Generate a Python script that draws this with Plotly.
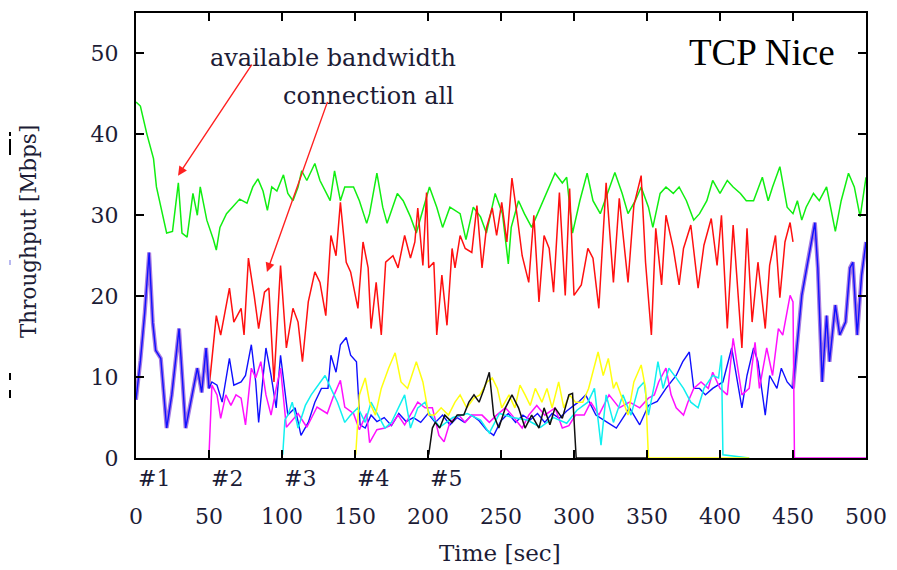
import plotly.graph_objects as go

# ---------------- data ----------------
green_t = [0, 3, 7.5, 10, 12, 14, 16.5, 18.5, 21, 25, 29, 31.5, 35, 39, 42, 44, 48.5, 53, 55, 57.5,
           62, 66, 71, 76, 80, 83.5, 87, 90, 93, 96.5, 101, 104, 107.5, 111, 113.5, 117, 120, 122.5, 126, 129.5,
           133, 136, 140, 143, 149, 153, 158, 160, 165, 169, 172, 179, 183, 188, 192, 197, 201, 206, 210, 215,
           222, 226, 231, 236, 240, 246, 251, 255, 257, 262, 266, 271, 277, 281, 287, 292, 295, 299, 304, 309,
           313, 318, 323, 328, 333, 337, 342, 346, 351, 354, 359, 363, 368, 372, 377, 382, 386, 391, 395, 400,
           405, 409, 414, 418, 423, 429, 433, 436, 441, 446, 450, 453, 456, 459, 464, 468, 473, 479, 483, 488,
           492, 496, 500]
green_v = [44, 43.5, 40, 38.4, 37, 33.5, 31.5, 30, 27.8, 28, 34, 27.8, 27.3, 32.7, 30, 33.5, 29.4, 27, 25.7, 28.5,
           30.2, 31, 32, 31.5, 33.5, 34.5, 33, 30.6, 33.5, 33, 35, 32.7, 31.8, 33.5, 35.5, 34.3, 35.5, 36.4, 34.3, 33,
           31.8, 35.5, 31.8, 33.5, 33.5, 31.8, 29, 30.2, 35.2, 31, 29, 32.7, 31.8, 29.8, 27.8, 31, 33.5, 31, 28.5, 31,
           30.2, 27, 31, 29.8, 27.8, 32.7, 30.2, 24, 28.5, 31.8, 30.2, 28.5, 31, 32.7, 35.2, 34, 34.7, 27.8, 31.8, 35.2,
           31.8, 30.2, 32.7, 35.3, 32.7, 30.2, 31.8, 33.5, 31, 28.5, 32.7, 33.5, 32.7, 33.5, 31.8, 29.4, 30.2, 31.8, 34.3, 32.7,
           34.3, 33.5, 32.7, 31.8, 31.8, 34.7, 31.8, 33.5, 36, 31, 30.2, 31.8, 29.4, 31, 32.7, 31.8, 33.5, 28, 31.8, 35.2,
           33.5, 29.8, 34.7]

all_t = [50, 51, 55, 58, 64, 67, 72, 74, 77, 81, 84, 88, 91, 94.5, 99, 103, 107.5, 111, 114, 118,
         122.5, 126, 130, 133.5, 137, 140, 144, 147, 152, 155.5, 159, 161, 164.5, 168, 171, 176, 179.5, 184, 188, 191,
         193, 196.5, 199, 200.5, 204, 206, 209.5, 213, 216.5, 218.5, 222, 225.5, 230, 233.5, 237, 240, 244, 247, 250.5, 254,
         257.5, 261, 264.5, 269, 272.5, 276, 279.5, 283, 286, 290, 294, 297, 300, 305, 309.5, 313, 317, 322, 327, 331,
         337, 341, 346, 349, 353, 356, 360, 363, 368, 372, 375, 380, 385, 389, 394, 398, 401, 405, 409, 415,
         418.5, 422, 426, 431, 434, 438, 441, 444.5, 448, 450]
all_v = [8.6, 10.6, 17.6, 15.2, 21, 16.8, 18.5, 15.2, 24.7, 20, 16, 20.5, 21, 9.4, 23.8, 13.6, 18.5, 16.8, 11.9, 19.3,
         23, 21.7, 17.6, 27.5, 25, 31.6, 24.2, 23, 18.5, 26.7, 23.5, 16, 21.7, 15.2, 24.2, 25, 23.5, 27.5, 24.7, 26.7,
         30.9, 23.8, 32.8, 23.5, 24.2, 15.2, 22.6, 16.4, 25.9, 23.5, 27.5, 25.9, 25.4, 31.2, 23.5, 28.4, 30.9, 27.5, 31.6, 26.7,
         34.6, 30, 25, 21.7, 30, 19.3, 27.5, 25.9, 20.5, 32.8, 20.1, 33.3, 20.1, 21.4, 25.9, 24.7, 18.5, 34, 21.7, 32.1,
         21.7, 31.2, 34.9, 24.2, 15.2, 28.4, 21.4, 30, 25.9, 21.4, 25.9, 28.8, 21, 26.3, 29.6, 23.8, 30, 16, 28.8, 13.6,
         28.4, 16.8, 24.2, 16, 23.8, 27.5, 19.8, 26.7, 29.1, 26.7]

c1_t = [0, 3, 6, 9, 11.5, 13.5, 17, 21, 24.5, 29.5, 34, 37.5, 42, 45, 48, 50, 52, 55.5, 59, 64,
        67, 72, 75, 79, 82, 84, 89, 92.5, 96, 99, 104, 109, 113, 118, 122.5, 127, 131.5, 133.5, 137, 140,
        144, 147, 151, 153.5, 157, 161, 165, 170, 175, 180, 185, 190, 195, 200, 205, 210, 215, 220, 225, 230,
        235, 240, 245, 250, 255, 260, 265, 270, 275, 280, 285, 290, 295, 300, 303, 308, 315, 322, 329, 338,
        345, 351, 357, 363, 370, 374.5, 379, 382, 386, 390, 395, 402, 408, 415, 418.5, 423, 426, 431, 434, 439,
        442, 446, 450, 456, 460, 465, 467, 470, 473, 475, 479, 482, 486, 489, 491, 494, 497, 500]
c1_v = [7.2, 12, 18, 25.4, 16.7, 13.3, 12.3, 3.7, 7.8, 16, 3.7, 6.9, 11.1, 8.1, 13.6, 8.6, 9.4, 9, 6.9, 12.3,
        9, 9.4, 10.2, 14, 9.4, 4.4, 13.6, 10.2, 6.2, 12.7, 5.3, 6.2, 2.8, 4.4, 6.9, 8.6, 8.6, 12.7, 10.6, 14,
        14.9, 12.7, 11.9, 4.1, 3.7, 5.3, 4.5, 5, 4, 5.5, 4.5, 5, 4.4, 5.5, 4.4, 5.3, 4.1, 5, 4.4, 5.3,
        4.6, 3.5, 2.8, 4.6, 5.5, 4.4, 5.3, 4.7, 5.5, 4.4, 5.5, 4.9, 5.8, 6.5, 6.9, 7.8, 5.3, 4.5, 3.7, 6.2,
        4.1, 6.5, 7, 8.6, 10.2, 11.9, 13.1, 8.6, 8.6, 7.8, 8.6, 9.4, 13.6, 6.2, 10.2, 13.6, 11.9, 5.3, 10.2, 8.6,
        11.1, 9.4, 8.6, 20.1, 24.2, 29.1, 23.5, 9.4, 17.6, 11.9, 18.9, 15.2, 16.8, 23.5, 24.2, 15.2, 22.6, 26.7]

c2_t = [50, 52, 55.5, 58, 61.5, 65, 68.5, 72, 75, 79, 82, 85.5, 89, 92.5, 96, 99, 103, 107, 111, 117,
        124, 131, 135, 140, 143, 149, 153, 158, 160, 165, 170.5, 175, 179.5, 184, 188, 193, 198, 203, 207.5, 211,
        215, 221, 225.5, 230, 237, 242, 247, 253, 257.5, 264.5, 269, 274.5, 280, 287, 292, 296.5, 301, 307, 311.5, 317,
        324, 331, 338, 345, 351, 355, 358, 363, 366.5, 370, 375, 378, 382, 387, 392, 395, 400, 405, 409, 415,
        420, 424, 427, 432, 436, 440, 443, 448, 450, 451, 500]
c2_v = [0.4, 9, 7.8, 4.9, 7.8, 6.5, 7.8, 7.4, 4.1, 11.1, 9.9, 11.9, 7.8, 5.3, 8.6, 11.1, 3.8, 4.7, 5.5, 3.8,
        6.3, 5.5, 7.5, 9.6, 6.3, 5.5, 3.5, 5.5, 1.9, 3.5, 3.7, 4.1, 5.3, 4.1, 5.3, 6.9, 6.2, 6.2, 2.8, 2,
        4.4, 5.3, 4.4, 5.3, 5.3, 4.4, 5.3, 6.2, 5.3, 3.7, 5.3, 6.5, 5.3, 6.2, 3.7, 4, 5.3, 5.3, 6.9, 5.3,
        7.8, 6.2, 6.9, 6.2, 7.4, 7.8, 9.4, 11.1, 7.8, 6.2, 5.3, 6.9, 8.6, 9.4, 8.6, 10.6, 8.6, 7.8, 14.8, 7.8,
        8.6, 14.3, 8.6, 13.6, 10.2, 16, 15.2, 20.1, 19.3, 0, 0]

c3_t = [100.5, 102, 104, 107, 111, 116, 120, 125, 129.5, 133.5, 138, 143, 147, 152, 157, 161, 166, 170.5, 175, 179.5,
        184, 188, 193, 198, 201, 208, 217, 227, 236, 242, 249, 258, 268, 277, 286, 295, 302, 309.5, 314, 318.5,
        322, 327, 333.5, 339, 344, 348, 351, 355, 357.5, 361, 365, 370, 375, 380, 385, 389, 395, 399, 401, 402, 420]
c3_v = [0.4, 4.7, 5.3, 6.9, 3.7, 6.5, 7.8, 9, 10.2, 8.6, 6.9, 4.4, 5.3, 6.2, 4.4, 6.9, 5.3, 3.7, 4.4, 6.2,
        7.8, 3.7, 6.2, 6.9, 5.5, 3.8, 5, 5.5, 4.7, 3.1, 5.5, 5, 4.7, 3.8, 5, 4.3, 5.9, 6.9, 8.6, 1.6,
        7.8, 4.4, 7.8, 5.3, 8.6, 9.4, 5.3, 9, 11.9, 8.6, 11.1, 9.9, 8.6, 6.9, 6.2, 8.6, 10.2, 9.9, 12.7, 0.4, 0]

c4_t = [150.5, 153, 157, 160, 164, 168, 173, 177.5, 181.5, 186, 192, 196.5, 200.5, 204.5, 209, 214, 218.5, 222, 226.5, 231.5,
        235.5, 240.5, 244, 247.5, 250.5, 255.5, 259.5, 263, 266.5, 270, 273.5, 278, 281.5, 285, 289.5, 293, 297, 301, 306, 310,
        316.5, 320, 323.5, 327, 329, 332, 337, 341, 346, 349, 350.5, 351, 420]
c4_v = [0.4, 7.8, 9.9, 6.9, 5.3, 8.6, 11.1, 13, 9.4, 8.6, 11.9, 9.4, 5.3, 5.3, 6.2, 5.3, 6.9, 7.8, 6.2, 7.4,
        7.8, 9.4, 9.9, 8.6, 6.2, 7.8, 6.2, 9, 7.8, 6.5, 8.6, 6.9, 8.6, 6.2, 9.4, 6.2, 7.8, 6.9, 6.9, 8.6,
        13.1, 10.2, 12.3, 8.6, 9.4, 7.8, 5.3, 9.4, 11.5, 8.6, 1.4, 0, 0]

c5_t = [200.5, 203, 205, 208, 211.5, 216.5, 220, 224.5, 228, 231.5, 235, 238.5, 242, 245, 248.5, 253, 257.5, 262, 266.5, 271,
        276, 279.5, 283.5, 287, 292, 296.5, 299, 300.5, 301.5, 350]
c5_v = [0.4, 3.7, 4.4, 3.7, 5.3, 4.4, 5.3, 5.3, 6.9, 7.8, 6.9, 8.6, 10.6, 5.3, 3.7, 6.2, 7.8, 6.2, 3.7, 5.3,
        3.7, 6.2, 4.1, 6.2, 4.9, 7.8, 8, 2, 0, 0]

x_ticks = [0, 50, 100, 150, 200, 250, 300, 350, 400, 450, 500]
y_ticks = [0, 10, 20, 30, 40, 50]
conn_labels = ["#1", "#2", "#3", "#4", "#5"]
conn_starts = [0, 50, 100, 150, 200]

# when only connection #1 is active, the aggregate equals connection #1
solo_a = [(t, v) for t, v in zip(c1_t, c1_v) if t <= 50]
solo_b = [(t, v) for t, v in zip(c1_t, c1_v) if t >= 450]

SERIF = "DejaVu Serif"
TXT = "#1c1c36"

fig = go.Figure()


def line(x, y, color, width=1.5, name=None):
    fig.add_trace(go.Scatter(x=x, y=y, mode="lines", line=dict(color=color, width=width),
                             showlegend=False, hoverinfo="skip", name=name))


line(green_t, green_v, "#11ee11", name="available bandwidth")
line(all_t, all_v, "#ff1010", name="connection all")
for seg in (solo_a, solo_b):
    line([p[0] for p in seg], [p[1] for p in seg], "rgba(160,115,225,0.95)", width=4)
line(c1_t, c1_v, "#1010ff", width=1.4, name="#1")
line(c2_t, c2_v, "#ff10ff", name="#2")
line(c3_t, c3_v, "#10f0f0", name="#3")
line(c4_t, c4_v, "#ffff10", name="#4")
line(c5_t, c5_v, "#111111", name="#5")

axis_common = dict(showline=True, linecolor="black", linewidth=2, mirror="ticks",
                   ticks="inside", ticklen=8, tickwidth=1.5, tickcolor="black",
                   showgrid=False, zeroline=False, automargin=False,
                   tickfont=dict(family=SERIF, size=22, color=TXT))

fig.update_xaxes(range=[0, 500], tickvals=x_ticks, ticktext=[str(v) for v in x_ticks],
                 ticklabelstandoff=38, **axis_common)
fig.update_yaxes(range=[0, 55], tickvals=y_ticks, ticktext=[str(v) for v in y_ticks],
                 ticklabelstandoff=11, **axis_common)

ann = []
for lab, s in zip(conn_labels, conn_starts):
    ann.append(dict(x=s, y=-0.045, xref="x", yref="paper", text=lab, showarrow=False,
                    xanchor="left", yanchor="middle", font=dict(family=SERIF, size=22, color=TXT)))
ann += [
    dict(x=0.4986, y=-0.2135, xref="paper", yref="paper", text="Time [sec]", showarrow=False,
         xanchor="center", yanchor="middle", font=dict(family=SERIF, size=23, color=TXT)),
    dict(x=-0.148, y=0.51, xref="paper", yref="paper", text="Throughput [Mbps]", showarrow=False,
         textangle=-90, xanchor="center", yanchor="middle", font=dict(family=SERIF, size=21.5, color=TXT)),
    dict(x=0.960, y=0.912, xref="paper", yref="paper", text="TCP Nice", showarrow=False,
         xanchor="right", yanchor="middle", font=dict(family="Liberation Serif", size=37, color="black")),
    dict(x=0.27, y=0.899, xref="paper", yref="paper", text="available bandwidth", showarrow=False,
         xanchor="center", yanchor="middle", font=dict(family=SERIF, size=24, color=TXT)),
    dict(x=0.319, y=0.8135, xref="paper", yref="paper", text="connection all", showarrow=False,
         xanchor="center", yanchor="middle", font=dict(family=SERIF, size=24, color=TXT)),
    dict(x=28.8, y=34.9, ax=80, ay=48.8, xref="x", yref="y", axref="x", ayref="y", text="",
         showarrow=True, arrowhead=2, arrowsize=1.3, arrowwidth=1.4, arrowcolor="#ff2020"),
    dict(x=89.7, y=23.0, ax=131.5, ay=44.2, xref="x", yref="y", axref="x", ayref="y", text="",
         showarrow=True, arrowhead=2, arrowsize=1.3, arrowwidth=1.4, arrowcolor="#ff2020"),
]


def px_x(p):
    return (p - 136) / 730


def px_y(p):
    return (458 - p) / 445


shapes = []
for (y0, y1, col) in [(132, 136, "black"), (139, 155, "black"), (373, 380, "black"),
                      (390, 398, "black"), (260, 265, "#b8b8f0")]:
    shapes.append(dict(type="line", xref="paper", yref="paper", x0=px_x(10), x1=px_x(10),
                       y0=px_y(y0), y1=px_y(y1), line=dict(color=col, width=2)))

# the page body adds an 8px offset, so the figure is sized to fit the 897x570 window
fig.update_layout(width=889, height=562, margin=dict(l=128, r=31, t=5, b=112),
                  paper_bgcolor="white", plot_bgcolor="white",
                  annotations=ann, shapes=shapes, showlegend=False)

fig.write_html("out.html")
